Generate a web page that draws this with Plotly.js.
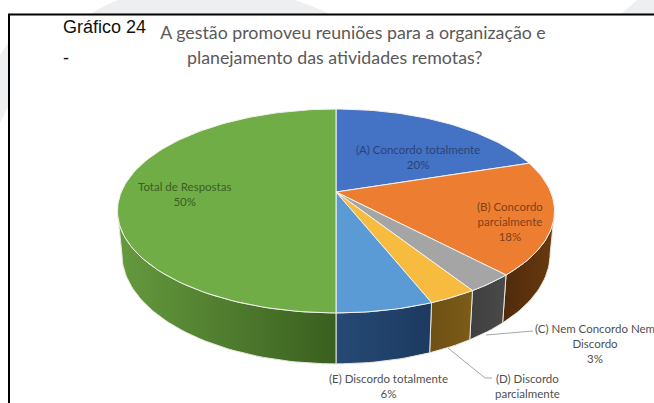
<!DOCTYPE html>
<html>
<head>
<meta charset="utf-8">
<script src="https://cdn.plot.ly/plotly-3.0.1.min.js"></script>
<style>html,body{margin:0;padding:0;background:#fff;overflow:hidden}#chart{width:654px;height:403px}</style>
</head>
<body>
<div id="chart"></div>
<script>
// Data
var categories = ["(A) Concordo totalmente", "(B) Concordo parcialmente", "(C) Nem Concordo Nem Discordo", "(D) Discordo parcialmente", "(E) Discordo totalmente", "Total de Respostas"];
var values = [20, 18, 3, 3, 6, 50];
var valueLabels = ["20%", "18%", "3%", "", "6%", "50%"];
var topColors = ["#4472c4", "#ed7d31", "#a5a5a5", "#f7bb3f", "#5b9bd5", "#70ad47"];
var wallLeft = [null, "#4e2a0c", "#3f3f3f", "#6e5015", "#254a75", "#659a3e"];
var wallRight = [null, "#6a3a10", "#4a4a4a", "#7d5c18", "#1d3a60", "#3a5f1f"];
var labelColors = ["#2a4478", "#7f4218", "#505050", "#505050", "#505050", "#38601f"];
var titleLines = ["A gestão promoveu reuniões para a organização e", "planejamento das atividades remotas?"];

// Perspective projection of the pie disc onto the page
function topPoint(deg) {
  var r = deg * Math.PI / 180, u = Math.sin(r), v = -Math.cos(r), d = 1 - 0.186 * v;
  return [336 + 214.7 * u / d, (192 + 62.7 * v) / d];
}
function bottomPoint(deg) {
  var p = topPoint(deg);
  return [336 + (p[0] - 336) * 0.98, 364 + (p[1] - 313) * 1.08];
}
function arc(fn, a, b) {
  var xs = [], ys = [], n = Math.max(2, Math.ceil(Math.abs(b - a) / 1.5));
  for (var i = 0; i <= n; i++) { var p = fn(a + (b - a) * i / n); xs.push(p[0]); ys.push(p[1]); }
  return [xs, ys];
}
var wallStart = 100.7, wallEnd = 259.3;
var walls = [], faces = [], cum = 0;
var total = values.reduce(function (s, x) { return s + x; }, 0);
values.forEach(function (val, i) {
  var a = cum / total * 360, b = (cum + val) / total * 360;
  cum += val;
  var t = arc(topPoint, a, b);
  faces.push({
    type: "scatter", mode: "lines", name: categories[i], hoverinfo: "skip",
    x: [336].concat(t[0], [336]), y: [192].concat(t[1], [192]),
    fill: "toself", fillcolor: topColors[i], line: { color: "#f4f2ee", width: 1 }
  });
  var wa = Math.max(a, wallStart), wb = Math.min(b, wallEnd);
  if (wb > wa) {
    var up = arc(topPoint, wa, wb), lo = arc(bottomPoint, wb, wa);
    walls.push({
      type: "scatter", mode: "lines", name: categories[i] + " (lateral)", hoverinfo: "skip",
      x: up[0].concat(lo[0], [up[0][0]]), y: up[1].concat(lo[1], [up[1][0]]),
      fill: "toself", line: { color: "#e8e6de", width: 1 },
      fillgradient: { type: "horizontal", colorscale: [[0, wallLeft[i]], [1, wallRight[i]]] }
    });
  }
});

var leaders = [
  { type: "scatter", mode: "lines", hoverinfo: "skip", name: "leader C", x: [486, 520, 533], y: [335, 332, 331], line: { color: "#a6a6a6", width: 1 } },
  { type: "scatter", mode: "lines", hoverinfo: "skip", name: "leader D", x: [448, 485, 492], y: [348, 378, 378], line: { color: "#a6a6a6", width: 1 } }
];

var labelFont = { family: "Lato, sans-serif", size: 11.5 };
function label(text, x, y, color) {
  return { text: text, x: x, y: y, xref: "x", yref: "y", showarrow: false, xanchor: "center", yanchor: "middle", align: "center",
           font: { family: labelFont.family, size: labelFont.size, color: color } };
}
var annotations = [
  label(categories[0] + "<br>" + valueLabels[0], 418, 157, labelColors[0]),
  label("(B) Concordo<br>parcialmente<br>" + valueLabels[1], 510, 221, labelColors[1]),
  label("(C) Nem Concordo Nem<br>Discordo<br>" + valueLabels[2], 594.5, 343, labelColors[2]),
  label("(D) Discordo<br>parcialmente", 527, 386, labelColors[3]),
  label(categories[4] + "<br>" + valueLabels[4], 388, 386, labelColors[4]),
  label(categories[5] + "<br>" + valueLabels[5], 184, 194, labelColors[5]),
  { text: titleLines[1], x: 334, y: 57, xref: "x", yref: "y", showarrow: false, xanchor: "center", yanchor: "middle",
    font: { family: "Lato, sans-serif", size: 17.8, color: "#595959" } },
  { text: "Gráfico 24", x: 61, y: 27, xref: "x", yref: "y", showarrow: false, xanchor: "left", yanchor: "middle",
    font: { family: "Liberation Sans, Arial, sans-serif", size: 18, color: "#111" } },
  { text: "-", x: 61, y: 58, xref: "x", yref: "y", showarrow: false, xanchor: "left", yanchor: "middle",
    font: { family: "Liberation Sans, Arial, sans-serif", size: 18, color: "#111" } }
];

var watermark = "#eeeff1";
var shapes = [
  { type: "path", path: "M 90 14 Q 105 5 118 0 L 295 0 Q 315 7 330 14 Z", fillcolor: watermark, line: { width: 0 }, layer: "below" },
  { type: "path", path: "M 621 14 L 637 0 L 654 0 L 654 14 Z", fillcolor: watermark, line: { width: 0 }, layer: "below" },
  { type: "path", path: "M 0 55 L 8 43 L 8 107 L 0 123 Z", fillcolor: watermark, line: { width: 0 }, layer: "below" },
  { type: "line", x0: 9, x1: 9, y0: 14, y1: 403, line: { color: "#000", width: 2 }, layer: "below" },
  { type: "line", x0: 8, x1: 654, y0: 14.5, y1: 14.5, line: { color: "#000", width: 2 }, layer: "below" }
];

var layout = {
  width: 654, height: 403, autosize: false,
  margin: { l: 0, r: 0, t: 0, b: 0 },
  paper_bgcolor: "#fff", plot_bgcolor: "rgba(0,0,0,0)",
  showlegend: false,
  title: { text: titleLines[0], x: 353 / 654, xref: "paper", xanchor: "center", y: 1 - 33 / 403, yref: "paper", yanchor: "middle",
           font: { family: "Lato, sans-serif", size: 17.8, color: "#595959" } },
  xaxis: { visible: false, range: [0, 654], fixedrange: true },
  yaxis: { visible: false, range: [403, 0], fixedrange: true },
  annotations: annotations,
  shapes: shapes
};
Plotly.newPlot("chart", walls.concat(faces, leaders), layout, { displayModeBar: false, staticPlot: true });
</script>
</body>
</html>
